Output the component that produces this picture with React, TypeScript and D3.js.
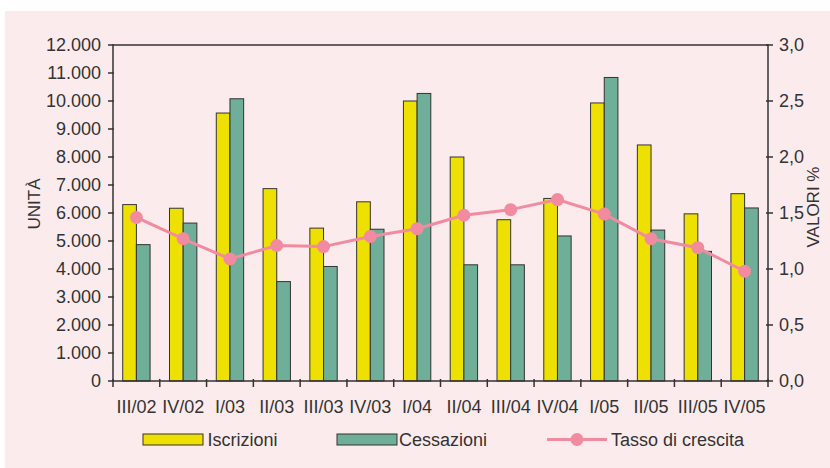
import React from "react";
import * as d3 from "d3";

const categories = ["III/02", "IV/02", "I/03", "II/03", "III/03", "IV/03", "I/04", "II/04", "III/04", "IV/04", "I/05", "II/05", "III/05", "IV/05"];
const iscrizioni = [6300, 6170, 9570, 6870, 5460, 6400, 10000, 8000, 5760, 6520, 9930, 8430, 5970, 6690];
const cessazioni = [4870, 5640, 10080, 3550, 4090, 5420, 10270, 4150, 4150, 5180, 10840, 5390, 4630, 6180];
const tasso = [1.46, 1.27, 1.09, 1.21, 1.2, 1.29, 1.36, 1.48, 1.53, 1.62, 1.49, 1.27, 1.19, 0.98];
const leftTicks = [0, 1000, 2000, 3000, 4000, 5000, 6000, 7000, 8000, 9000, 10000, 11000, 12000];
const rightTicks = [0, 0.5, 1, 1.5, 2, 2.5, 3];

const W = 830;
const H = 468;
const M = { left: 113, right: 768, top: 45, bottom: 381 };

const COL_Y = "#eee000";
const COL_G = "#6fae98";
const COL_P = "#f28ba0";
const INK = "#333333";
const FONT = "'Liberation Sans', Arial, sans-serif";

export default function App() {
  const x = d3.scaleBand<string>().domain(categories).range([M.left, M.right]).paddingInner(0).paddingOuter(0);
  const sub = d3.scaleBand<string>().domain(["i", "c"]).range([0, x.bandwidth()]).paddingOuter(0.71).paddingInner(0);
  const yL = d3.scaleLinear().domain([0, 12000]).range([M.bottom, M.top]);
  const yR = d3.scaleLinear().domain([0, 3]).range([M.bottom, M.top]);
  const fmtL = (v: number) => d3.format(",")(v).replace(/,/g, ".");
  const fmtR = (v: number) => d3.format(".1f")(v).replace(".", ",");
  const cx = (c: string) => (x(c) as number) + x.bandwidth() / 2;
  const line = d3.line<number>().x((_, i) => cx(categories[i])).y((d) => yR(d));
  const bounds = [...categories.map((c) => x(c) as number), M.right];

  return (
    <svg width={W} height={H} style={{ position: "absolute", left: 0, top: 0 }} fontFamily={FONT}>
      <rect x={0} y={0} width={W} height={H} fill="#ffffff" />
      <rect x={5} y={11} width={W - 5} height={H - 11} fill="#fcebec" />

      {/* bars */}
      {categories.map((c, i) => (
        <g key={c}>
          <rect x={(x(c) as number) + (sub("i") as number)} y={yL(iscrizioni[i])} width={sub.bandwidth()} height={M.bottom - yL(iscrizioni[i])} fill={COL_Y} stroke={INK} strokeWidth={1} />
          <rect x={(x(c) as number) + (sub("c") as number)} y={yL(cessazioni[i])} width={sub.bandwidth()} height={M.bottom - yL(cessazioni[i])} fill={COL_G} stroke={INK} strokeWidth={1} />
        </g>
      ))}

      {/* frame */}
      <rect x={M.left} y={M.top} width={M.right - M.left} height={M.bottom - M.top} fill="none" stroke={INK} strokeWidth={1.5} />

      {/* left axis */}
      {leftTicks.map((t) => (
        <g key={t}>
          <line x1={M.left - 5} x2={M.left + 1} y1={yL(t)} y2={yL(t)} stroke={INK} strokeWidth={1.5} />
          <text x={101} y={yL(t)} dy="0.36em" textAnchor="end" fontSize={18} fill={INK}>{fmtL(t)}</text>
        </g>
      ))}
      {/* right axis */}
      {rightTicks.map((t) => (
        <g key={t}>
          <line x1={M.right - 2} x2={M.right + 5} y1={yR(t)} y2={yR(t)} stroke={INK} strokeWidth={1.5} />
          <text x={779} y={yR(t)} dy="0.36em" textAnchor="start" fontSize={18} fill={INK}>{fmtR(t)}</text>
        </g>
      ))}
      {/* category ticks */}
      {bounds.map((b, i) => (
        <line key={i} x1={b} x2={b} y1={M.bottom - 2} y2={M.bottom + 6} stroke={INK} strokeWidth={1.5} />
      ))}
      {categories.map((c) => (
        <text key={c} x={cx(c)} y={413} textAnchor="middle" fontSize={18} fill={INK}>{c}</text>
      ))}

      {/* axis titles */}
      <text transform="translate(40,204) rotate(-90)" textAnchor="middle" fontSize={17} fill={INK}>UNITÀ</text>
      <text transform="translate(819,207) rotate(-90)" textAnchor="middle" fontSize={17} fill={INK}>VALORI %</text>

      {/* growth rate line */}
      <path d={line(tasso) as string} fill="none" stroke={COL_P} strokeWidth={3} />
      {tasso.map((v, i) => (
        <circle key={i} cx={cx(categories[i])} cy={yR(v)} r={6.5} fill={COL_P} />
      ))}

      {/* legend */}
      <rect x={143} y={434} width={60} height={11} fill={COL_Y} stroke={INK} strokeWidth={1} />
      <text x={207.5} y={446} fontSize={18} fill={INK}>Iscrizioni</text>
      <rect x={337} y={434} width={60} height={11} fill={COL_G} stroke={INK} strokeWidth={1} />
      <text x={399} y={446} fontSize={18} fill={INK}>Cessazioni</text>
      <line x1={547} x2={607} y1={439.5} y2={439.5} stroke={COL_P} strokeWidth={3} />
      <circle cx={577} cy={439.5} r={6.5} fill={COL_P} />
      <text x={611} y={446} fontSize={18} fill={INK}>Tasso di crescita</text>
    </svg>
  );
}
